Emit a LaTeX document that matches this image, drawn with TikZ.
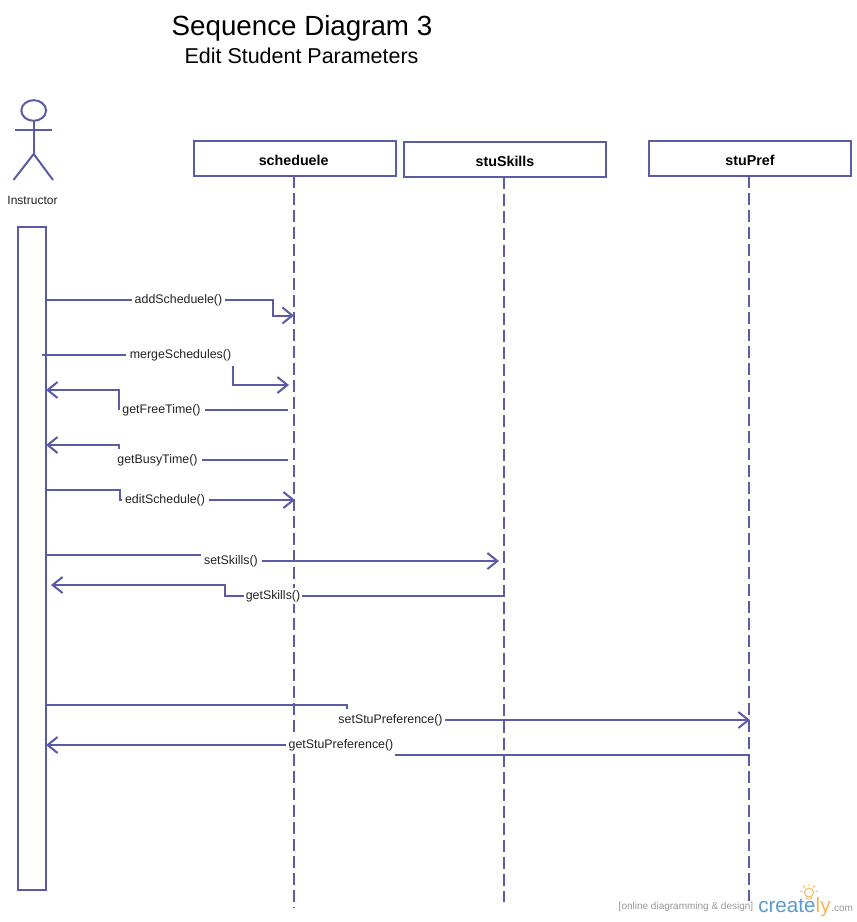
\documentclass[tikz,border=0pt]{standalone}
\usepackage{fontspec}
\setmainfont{Liberation Sans}
\usetikzlibrary{arrows.meta,shapes.geometric}
\definecolor{umlc}{HTML}{5C5BA8}
\definecolor{txtc}{HTML}{222222}
\definecolor{logob}{HTML}{5B9BD0}
\definecolor{logoo}{HTML}{F5B65A}
\tikzset{
  umlline/.style={draw=umlc,line width=1.5pt,line join=miter},
  lifeline/.style={draw=umlc,line width=1.5pt,dash pattern=on 9pt off 3.75pt,dash phase=0.75pt},
  headbox/.style={draw=umlc,line width=1.5pt,fill=white,minimum width=151.5pt,minimum height=26pt,inner sep=0pt,text height=11pt,text depth=0pt,font=\fontsize{10.7}{12}\selectfont\bfseries,text=black},
  msg/.style={umlline,-{Straight Barb[length=7.5pt,width=12pt,line width=1.5pt]}},
  lbl/.style={inner sep=0pt,font=\fontsize{9.3}{11}\selectfont,text=txtc,anchor=center},
  x=0.75pt,y=-0.75pt
}
\begin{document}
\begin{tikzpicture}
\useasboundingbox (0,0) rectangle (857,922);
\fill[white] (0,0) rectangle (857,922);
% titles
\node[inner sep=0pt,font=\fontsize{20.8}{24}\selectfont,text=black] (title) at (302,28) {Sequence Diagram 3};
\node[inner sep=0pt,font=\fontsize{16.1}{19}\selectfont,text=black] (subtitle) at (301.5,55.5) {Edit Student Parameters};
% actor
\node[draw=umlc,line width=1.5pt,ellipse,minimum width=18.5pt,minimum height=15.5pt,inner sep=0pt] (head) at (33.7,110.5) {};
\coordinate (neck) at (33.7,154);
\coordinate (armL) at (15,130);
\coordinate (armR) at (52,130);
\coordinate (legL) at (13.5,180);
\coordinate (legR) at (53,180);
\draw[umlline] (head.south) -- (neck);
\draw[umlline] (armL) -- (armR);
\draw[umlline] (legL) -- (neck) -- (legR);
\node[inner sep=0pt,font=\fontsize{9}{11}\selectfont,text=txtc] (instr) at (32.5,200.5) {Instructor};
% activation bar
\node[draw=umlc,line width=1.5pt,fill=white,minimum width=21pt,minimum height=497.5pt,inner sep=0pt] (bar) at (32,558.5) {};
% lifelines
\coordinate (schEnd) at (294,908);
\coordinate (skiEnd) at (504,902);
\coordinate (prefEnd) at (749,901);
\node[headbox] (sch) at (295,158.5) {\kern-2pt scheduele};
\node[headbox] (ski) at (505,159.5) {stuSkills};
\node[headbox] (pref) at (750,158.5) {stuPref};
\draw[lifeline] (sch.south -| schEnd) -- (schEnd);
\draw[lifeline] (ski.south -| skiEnd) -- (skiEnd);
\draw[lifeline] (pref.south -| prefEnd) -- (prefEnd);
% addScheduele
\node[lbl] (m1) at (178.5,300) {addScheduele()};
\coordinate (m1a) at (46,299.5); \coordinate (m1b) at (294,315.5);
\draw[umlline] (m1a) -- ([xshift=-2]m1.west |- m1a);
\draw[msg] ([xshift=2]m1.east |- m1a) -| (272.5,315.5) -- (m1b);
% mergeSchedules
\node[lbl] (m2) at (180.5,355) {mergeSchedules()};
\coordinate (m2a) at (42,354.5); \coordinate (m2b) at (289,385);
\draw[umlline] (m2a) -- ([xshift=-3]m2.west |- m2a);
\draw[msg] (233,366) |- (m2b);
% getFreeTime
\node[lbl] (m3) at (161.5,410) {getFreeTime()};
\coordinate (m3a) at (288,410); \coordinate (m3b) at (46,390);
\draw[umlline] (m3a) -- ([xshift=3]m3.east |- m3a);
\draw[msg] (119,410) |- (m3b);
% getBusyTime
\node[lbl] (m4) at (157.5,460) {getBusyTime()};
\coordinate (m4a) at (288,460); \coordinate (m4b) at (46,445);
\draw[umlline] (m4a) -- ([xshift=3]m4.east |- m4a);
\draw[msg] (119,448.5) |- (m4b);
% editSchedule
\node[lbl] (m5) at (165,500) {editSchedule()};
\coordinate (m5a) at (46,490); \coordinate (m5b) at (295,500);
\draw[umlline] (m5a) -| (119.5,500) -- ([xshift=-2]m5.west |- m5b);
\draw[msg] ([xshift=3]m5.east |- m5b) -- (m5b);
% setSkills
\node[lbl] (m6) at (231,561) {setSkills()};
\coordinate (m6a) at (46,555); \coordinate (m6b) at (499,561);
\draw[umlline] (m6a) -- ([xshift=-2]m6.west |- m6a);
\draw[msg] ([xshift=3]m6.east |- m6b) -- (m6b);
% getSkills
\node[fill=white,lbl,inner sep=1.5pt] (m7) at (273,596) {getSkills()};
\coordinate (m7a) at (504,596); \coordinate (m7b) at (51,585);
\draw[umlline] (m7a) -- (m7.east |- m7a);
\draw[msg] (m7.west |- m7a) -| (224.5,585) -- (m7b);
% setStuPreference
\node[lbl,fill=white,inner sep=1.5pt] (m8) at (390.5,720) {setStuPreference()};
\coordinate (m8a) at (46,705); \coordinate (m8b) at (750,720);
\draw[umlline] (m8a) -| (347,708.5);
\draw[msg] (m8.east |- m8b) -- (m8b);
% getStuPreference
\node[lbl,fill=white,inner sep=1.5pt] (m9) at (341,745) {getStuPreference()};
\coordinate (m9a) at (749,755); \coordinate (m9b) at (46,745);
\draw[umlline] (m9a) -- (395,755);
\draw[msg] (m9.west |- m9b) -- (m9b);
% watermark
\node[inner sep=0pt,font=\fontsize{7.5}{9}\selectfont,text=gray!80] (wm) at (686,907) {[online diagramming \& design]};
\node[inner sep=0pt,anchor=base west,font=\fontsize{15.5}{18}\selectfont] (logo) at (758,912) {\textcolor{logob}{create}\textcolor{logoo}{ly}};
\node[inner sep=0pt,anchor=base west,font=\fontsize{7.5}{9}\selectfont,text=gray!80] (com) at (831,911) {.com};
\draw[logoo,line width=0.7pt] (809,892.5) circle (4.5);
\draw[logoo,line width=0.7pt] (806.5,897) -- (807,899) -- (811,899) -- (811.5,897);
\draw[logoo,line width=0.7pt] (800,891) -- (802.5,891.5) (815.5,891.5) -- (818,891) (809,884) -- (809,886.5) (803,885.5) -- (805,887.5) (815,885.5) -- (813,887.5);
\end{tikzpicture}
\end{document}
